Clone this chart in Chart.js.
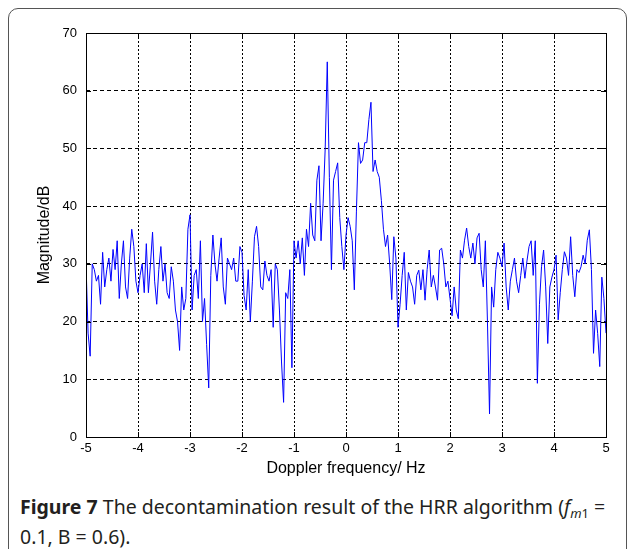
<!DOCTYPE html>
<html>
<head>
<meta charset="utf-8">
<script src="https://cdn.jsdelivr.net/npm/chart.js@4.4.0/dist/chart.umd.min.js"></script>
<style>
html, body { margin:0; padding:0; background:#fff; width:634px; height:549px; overflow:hidden; }
#frame { position:absolute; left:8px; top:8px; width:617px; height:570px; border:1.5px solid #555; border-radius:10px; }
#wrap { position:absolute; left:0; top:0; width:634px; height:490px; }
#caption { position:absolute; left:20px; top:492px; width:610px; white-space:nowrap; font-family:"Noto Sans", sans-serif; font-size:19.5px; line-height:30px; color:#231f20; }
#caption b { font-weight:bold; }
#caption sub { font-size:13px; line-height:0; vertical-align:-0.3em; }
</style>
</head>
<body>
<div id="frame"></div>
<div id="wrap"><canvas id="c" width="634" height="490"></canvas></div>
<div id="caption"><b>Figure 7</b> The decontamination result of the HRR algorithm (<i>f</i><sub><i>m</i>1</sub> =<br>0.1, B = 0.6).</div>
<script>
// Доплеровская частота: сетка от -5 до 5 Гц, шаг 0.04
const freqStart = -5, freqStep = 0.04;
const magA = [30, 18, 14, 30, 29, 27, 28, 23, 32, 26, 29, 31, 27, 32.5, 29, 34, 24, 30, 34, 26, 24, 31, 36, 33, 27, 25];
const magB = [28, 30, 25, 33.5, 25, 30, 35.5, 27, 23, 29, 33, 27, 30, 25, 24, 29.5, 27, 22, 20, 15, 26, 22, 24, 36, 38.5];
const magC = [22, 28, 29, 24, 34, 20, 24, 16, 8.5, 28, 35, 30, 27, 31, 34.5, 26, 23, 31, 30, 29, 31, 27, 27, 33, 32];
const magD = [24.5, 22, 29, 20, 27, 34.7, 36.5, 33, 26, 25.5, 30.5, 28, 27, 29, 19, 30, 29, 22, 13, 6, 25, 24, 29, 12, 34];
const magE = [31, 34, 30, 34.5, 28, 36, 33, 40.5, 35, 34, 44.5, 47, 34, 40.5, 50, 65, 45, 29, 44.5, 46, 47.5, 38, 33, 29, 35];
const magF = [38, 36.5, 34, 25.5, 39, 51, 47.4, 48, 51, 51, 55, 58, 46, 48, 46, 45, 41, 36, 33, 35, 30, 23.8, 34.7, 31, 19];
const magG = [23, 28, 32, 22, 28.5, 27, 26, 23, 28, 28.9, 25.5, 29, 23.7, 29, 32.4, 26, 28, 26, 23.7, 32.4, 32.7, 30, 26, 27, 24];
const magH = [21, 26, 22, 20.5, 32.4, 31, 34.1, 36.2, 33, 31, 33.6, 30, 34.5, 35.3, 29, 26, 34, 20, 4, 26, 22.5, 29, 32, 31, 29.5];
const magI = [33.6, 26, 22, 27, 29, 31, 27, 25, 28, 31, 27.5, 30.5, 33, 34, 28, 34, 9.3, 23, 29.5, 32.4, 26, 16.2, 26, 27.7, 29];
const magJ = [31.5, 20.3, 25, 29, 32.1, 31, 28, 34.7, 28, 24.3, 29, 28.5, 29.5, 31.5, 30, 34.1, 35.9, 29, 14.5, 22, 17.9, 12.2, 27.7, 24, 18];
const xTicks = [-5, -4, -3, -2, -1, 0, 1, 2, 3, 4, 5];
const yTicks = [0, 10, 20, 30, 40, 50, 60, 70];

const magnitude = [].concat(magA, magB, magC, magD, magE, magF, magG, magH, magI, magJ);
const points = magnitude.map((v, i) => ({ x: +(freqStart + i * freqStep).toFixed(2), y: v }));

// рамка вокруг области графика и засечки внутрь, как в matlab
const boxPlugin = {
  id: 'box',
  afterDatasetsDraw(chart) {
    const { ctx, chartArea: a, scales: { x, y } } = chart;
    ctx.save();
    ctx.strokeStyle = '#000';
    ctx.lineWidth = 1;
    ctx.setLineDash([]);
    ctx.strokeRect(Math.round(a.left) + 0.5, Math.round(a.top) + 0.5, Math.round(a.right - a.left), Math.round(a.bottom - a.top));
    ctx.beginPath();
    xTicks.forEach(v => {
      const px = Math.round(x.getPixelForValue(v)) + 0.5;
      ctx.moveTo(px, a.bottom); ctx.lineTo(px, a.bottom - 5);
      ctx.moveTo(px, a.top); ctx.lineTo(px, a.top + 5);
    });
    yTicks.forEach(v => {
      const py = Math.round(y.getPixelForValue(v)) + 0.5;
      ctx.moveTo(a.left, py); ctx.lineTo(a.left + 5, py);
      ctx.moveTo(a.right, py); ctx.lineTo(a.right - 5, py);
    });
    ctx.stroke();
    ctx.restore();
  }
};

const tickFont = { family: '"Liberation Sans", Arial, sans-serif', size: 13 };
const titleFont = { family: '"Liberation Sans", Arial, sans-serif', size: 16 };

new Chart(document.getElementById('c'), {
  type: 'line',
  data: {
    datasets: [{
      data: points,
      borderColor: '#0000ff',
      borderWidth: 1,
      pointRadius: 0,
      tension: 0,
      fill: false
    }]
  },
  options: {
    responsive: false,
    animation: false,
    events: [],
    layout: { padding: { top: 33, right: 28, left: 0, bottom: 0 } },
    plugins: { legend: { display: false }, tooltip: { enabled: false } },
    scales: {
      x: {
        type: 'linear',
        min: -5, max: 5,
        afterFit(s) { s.height = 53; },
        afterBuildTicks(s) { s.ticks = xTicks.map(v => ({ value: v })); },
        ticks: { color: '#000', font: tickFont, padding: 4, maxRotation: 0 },
        grid: { color: '#000', lineWidth: 1, drawTicks: false },
        border: { display: false, dash: [2, 2] },
        title: { display: true, text: 'Doppler frequency/ Hz', color: '#000', font: titleFont, padding: { top: 0, bottom: 12 } }
      },
      y: {
        min: 0, max: 70,
        afterFit(s) { s.width = 86; },
        afterBuildTicks(s) { s.ticks = yTicks.map(v => ({ value: v })); },
        ticks: { color: '#000', font: tickFont, padding: 9 },
        grid: { color: '#000', lineWidth: 1, drawTicks: false },
        border: { display: false, dash: [4, 3] },
        title: { display: true, text: 'Magnitude/dB', color: '#000', font: titleFont, padding: { top: 35, bottom: 0 } }
      }
    }
  },
  plugins: [boxPlugin]
});
</script>
</body>
</html>
